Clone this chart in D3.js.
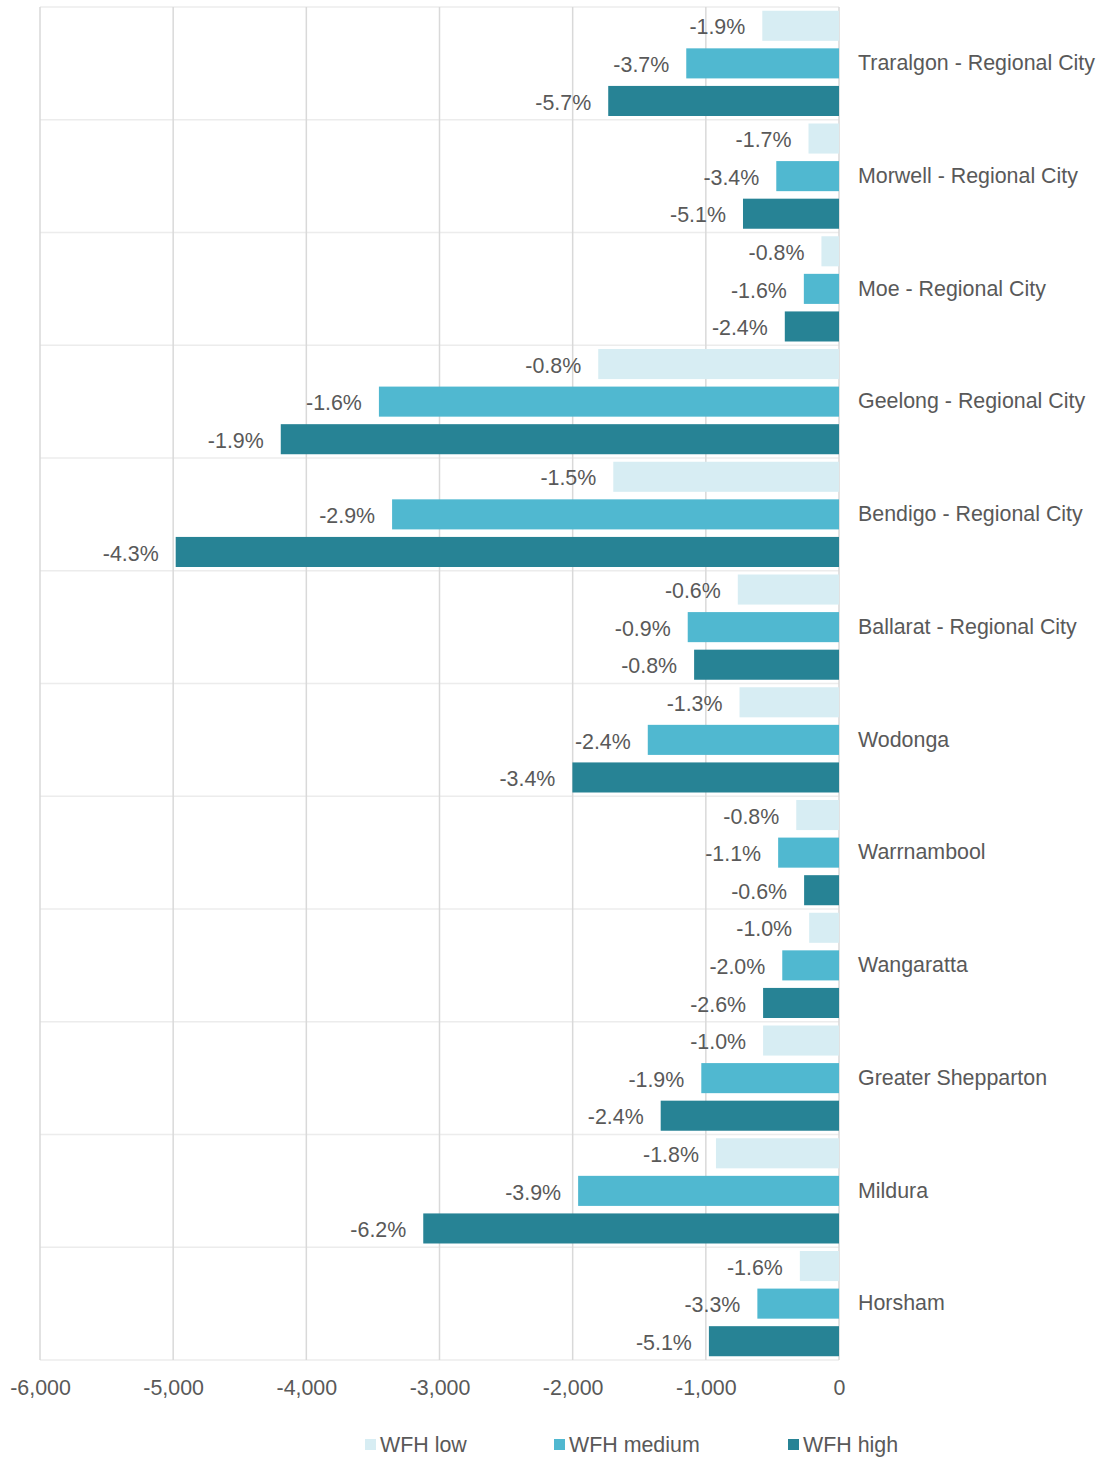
<!DOCTYPE html>
<html>
<head>
<meta charset="utf-8">
<script src="https://cdn.jsdelivr.net/npm/d3@7"></script>
<style>
  html, body { margin: 0; padding: 0; background: #ffffff; }
  svg { display: block; font-family: "Liberation Sans", Arial, sans-serif; }
</style>
</head>
<body>
<svg id="chart" width="1100" height="1458"></svg>
<script>
// Regional centres, top to bottom
const categories = [
  "Traralgon - Regional City",
  "Morwell - Regional City",
  "Moe - Regional City",
  "Geelong - Regional City",
  "Bendigo - Regional City",
  "Ballarat - Regional City",
  "Wodonga",
  "Warrnambool",
  "Wangaratta",
  "Greater Shepparton",
  "Mildura",
  "Horsham"
];

const seriesNames = ["WFH low", "WFH medium", "WFH high"];

// Change in jobs under each work-from-home scenario
const wfhLow    = [-576, -229, -132, -1808, -1695, -760, -747, -321, -224, -570, -924, -294];
const wfhMedium = [-1147, -471, -264, -3455, -3356, -1136, -1436, -457, -426, -1034, -1959, -613];
const wfhHigh   = [-1733, -721, -407, -4192, -4981, -1088, -2002, -262, -570, -1339, -3122, -977];

// Percentage change shown beside each bar
const wfhLowPct    = ["-1.9%", "-1.7%", "-0.8%", "-0.8%", "-1.5%", "-0.6%", "-1.3%", "-0.8%", "-1.0%", "-1.0%", "-1.8%", "-1.6%"];
const wfhMediumPct = ["-3.7%", "-3.4%", "-1.6%", "-1.6%", "-2.9%", "-0.9%", "-2.4%", "-1.1%", "-2.0%", "-1.9%", "-3.9%", "-3.3%"];
const wfhHighPct   = ["-5.7%", "-5.1%", "-2.4%", "-1.9%", "-4.3%", "-0.8%", "-3.4%", "-0.6%", "-2.6%", "-2.4%", "-6.2%", "-5.1%"];

const tickValues = [-6000, -5000, -4000, -3000, -2000, -1000, 0];

const colors = ["#d7edf3", "#50b8d0", "#278395"];
const textColor = "#595959";
const fontSize = 21.4;

const seriesValues = [wfhLow, wfhMedium, wfhHigh];
const seriesPct = [wfhLowPct, wfhMediumPct, wfhHighPct];

const rows = categories.map((c, i) => ({
  category: c,
  bars: seriesNames.map((s, k) => ({ series: s, k, value: seriesValues[k][i], label: seriesPct[k][i] }))
}));

const svg = d3.select("#chart");

const x = d3.scaleLinear().domain([-6000, 0]).range([40, 839]);
const y = d3.scaleBand().domain(categories).range([7, 1360]).paddingInner(0).paddingOuter(0);
const ySub = d3.scaleBand().domain(seriesNames).range([0, y.bandwidth()]).paddingInner(0.2).paddingOuter(0.1);

// Horizontal separators between categories
const bounds = categories.map(c => y(c)).concat([y.range()[1]]);
svg.append("g")
  .selectAll("line")
  .data(bounds)
  .join("line")
  .attr("x1", x(-6000)).attr("x2", x(0))
  .attr("y1", d => d).attr("y2", d => d)
  .attr("stroke", "#ececec")
  .attr("stroke-width", 1.5);

// Vertical value gridlines
svg.append("g")
  .selectAll("line")
  .data(tickValues)
  .join("line")
  .attr("x1", d => x(d)).attr("x2", d => x(d))
  .attr("y1", y.range()[0]).attr("y2", y.range()[1])
  .attr("stroke", "#d9d9d9")
  .attr("stroke-width", 1.5);

// Bars
const groups = svg.append("g")
  .selectAll("g")
  .data(rows)
  .join("g")
  .attr("transform", d => `translate(0,${y(d.category)})`);

groups.selectAll("rect")
  .data(d => d.bars)
  .join("rect")
  .attr("x", d => x(d.value))
  .attr("y", d => ySub(d.series))
  .attr("width", d => x(0) - x(d.value))
  .attr("height", ySub.bandwidth())
  .attr("fill", d => colors[d.k]);

// Value labels at the outer end of each bar
groups.selectAll("text.value")
  .data(d => d.bars)
  .join("text")
  .attr("class", "value")
  .attr("x", d => x(d.value) - 17)
  .attr("y", d => ySub(d.series) + ySub.bandwidth() / 2 + 1)
  .attr("dy", "0.36em")
  .attr("text-anchor", "end")
  .attr("font-size", fontSize)
  .attr("fill", textColor)
  .text(d => d.label);

// Category labels on the right
svg.append("g")
  .selectAll("text")
  .data(categories)
  .join("text")
  .attr("x", x(0) + 19)
  .attr("y", d => y(d) + y.bandwidth() / 2 - 1)
  .attr("dy", "0.36em")
  .attr("font-size", fontSize)
  .attr("fill", textColor)
  .text(d => d);

// Value axis along the bottom
const xAxis = d3.axisBottom(x)
  .tickValues(tickValues)
  .tickSize(0)
  .tickPadding(20)
  .tickFormat(d3.format(","));

const axisG = svg.append("g")
  .attr("transform", `translate(0,${y.range()[1]})`)
  .call(xAxis);
axisG.select(".domain").remove();
axisG.selectAll("text")
  .attr("font-size", fontSize)
  .attr("font-family", "\"Liberation Sans\", Arial, sans-serif")
  .attr("fill", textColor)
  .text(d => d3.format(",")(d).replace("−", "-"));

// Legend
const legendX = [365, 554, 788];
const legend = svg.append("g")
  .selectAll("g")
  .data(seriesNames)
  .join("g")
  .attr("transform", (d, i) => `translate(${legendX[i]},1439)`);
legend.append("rect")
  .attr("width", 11).attr("height", 11)
  .attr("fill", (d, i) => colors[i]);
legend.append("text")
  .attr("x", 15)
  .attr("y", 5.5)
  .attr("dy", "0.36em")
  .attr("font-size", fontSize)
  .attr("fill", textColor)
  .text(d => d);
</script>
</body>
</html>
